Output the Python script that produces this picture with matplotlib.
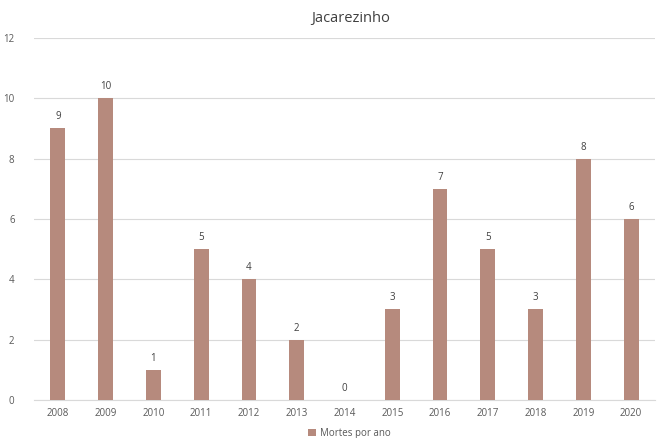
import matplotlib
matplotlib.use("Agg")
import matplotlib.pyplot as plt

years = ["2008", "2009", "2010", "2011", "2012", "2013", "2014", "2015", "2016", "2017", "2018", "2019", "2020"]
deaths = [9, 10, 1, 5, 4, 2, 0, 3, 7, 5, 3, 8, 6]

plt.rcParams['font.family'] = ['Open Sans', 'DejaVu Sans']
fig = plt.figure(figsize=(6.59, 4.38), dpi=100)
ax = fig.add_axes([0.0516, 0.0868, 0.9424, 0.8265])
color = "#b68a7d"
x = list(range(len(years)))
bars = ax.bar(x, deaths, width=0.31, color=color, label="Mortes por ano", zorder=3)
for xi, v in zip(x, deaths):
    ax.text(xi, v + 0.2, str(v), ha="center", va="bottom", fontsize=7, color="#404040")
ax.set_xlim(-0.5, len(years) - 0.5)
ax.set_ylim(0, 12)
ax.set_yticks(range(0, 13, 2))
ax.set_xticks(x)
ax.set_xticklabels(years)
ax.grid(axis="y", color="#d9d9d9", linewidth=0.8, zorder=0)
for s in ["top", "right", "left"]:
    ax.spines[s].set_visible(False)
ax.spines["bottom"].set_color("#d9d9d9")
ax.tick_params(axis="both", length=0, labelsize=7, colors="#595959")
ax.tick_params(axis="x", pad=6)
ax.tick_params(axis="y", pad=14)
fig.text(0.532, 0.958, "Jacarezinho", ha="center", va="center", fontsize=10.5, color="#404040")
fig.legend(handles=[bars], labels=["Mortes por ano"], loc="center", bbox_to_anchor=(0.53, 0.01),
           frameon=False, fontsize=7, handlelength=0.8, handleheight=0.8, handletextpad=0.4,
           labelcolor="#595959")
fig.savefig("out.png", dpi=100)
